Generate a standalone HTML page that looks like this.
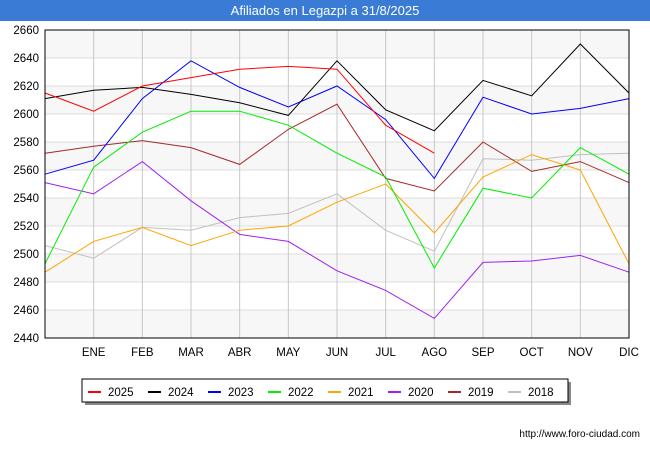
<!DOCTYPE html>
<html><head><meta charset="utf-8"><style>
body{margin:0;width:650px;height:450px;background:#fff;font-family:"Liberation Sans",sans-serif;overflow:hidden}
</style></head><body>
<svg width="650" height="450" xmlns="http://www.w3.org/2000/svg">
<rect x="0" y="0" width="650" height="21" fill="#3a7bd5"/>
<text x="325" y="15" text-anchor="middle" fill="#fff" font-size="13">Afiliados en Legazpi a 31/8/2025</text>
<g id="grid"></g>
<g id="series"></g>
<rect x="45" y="30" width="584" height="308" fill="none" stroke="#000" stroke-width="1"/>
<g id="legend"></g>
<text x="640" y="437" text-anchor="end" font-size="10" fill="#000">http://www.foro-ciudad.com</text>
</svg>
<script>
const months=["","ENE","FEB","MAR","ABR","MAY","JUN","JUL","AGO","SEP","OCT","NOV","DIC"];
const yTicks=[2440,2460,2480,2500,2520,2540,2560,2580,2600,2620,2640,2660];
const seriesNames=["2025","2024","2023","2022","2021","2020","2019","2018"];
const seriesColors=["#ff0000","#000000","#0000ff","#00ee00","#ffa500","#a020f0","#a52a2a","#c0c0c0"];
const s2025=[2615,2602,2620,2626,2632,2634,2632,2592,2572];
const s2024=[2611,2617,2619,2614,2608,2599,2638,2603,2588,2624,2613,2650,2615];
const s2023=[2557,2567,2611,2638,2619,2605,2620,2596,2554,2612,2600,2604,2611];
const s2022=[2493,2562,2587,2602,2602,2592,2572,2555,2490,2547,2540,2576,2557];
const s2021=[2487,2509,2519,2506,2517,2520,2537,2550,2515,2555,2571,2560,2493];
const s2020=[2551,2543,2566,2538,2514,2509,2488,2474,2454,2494,2495,2499,2487];
const s2019=[2572,2577,2581,2576,2564,2589,2607,2554,2545,2580,2559,2566,2551];
const s2018=[2506,2497,2519,2517,2526,2529,2543,2517,2502,2568,2567,2571,2572];
const allSeries=[s2025,s2024,s2023,s2022,s2021,s2020,s2019,s2018];
const NS="http://www.w3.org/2000/svg";
const X0=45,X1=629,Y0=338,Y1=30,YMIN=2440,YMAX=2660;
const xs=i=>X0+i*(X1-X0)/12;
const ys=v=>Y0-(v-YMIN)/(YMAX-YMIN)*(Y0-Y1);
function mk(t,a,p){const e=document.createElementNS(NS,t);for(const k in a)e.setAttribute(k,a[k]);p.appendChild(e);return e;}
const grid=document.getElementById('grid');
for(let i=0;i<yTicks.length-1;i++){
  if(i%2===0){const r=mk('rect',{x:X0,y:ys(yTicks[i+1]),width:X1-X0,height:ys(yTicks[i])-ys(yTicks[i+1]),fill:'#f7f7f7'},grid);
  
  }
}
yTicks.forEach(v=>{
  const l=mk('line',{x1:X0,x2:X1,y1:ys(v),y2:ys(v),stroke:'#dddddd'},grid);
  
  
  const t=mk('text',{x:X0-6,y:ys(v)+4,'text-anchor':'end','font-size':'11.5',fill:'#000'},grid);
  t.textContent=v;
  
  
});
months.forEach((m,i)=>{
  if(i===0)return;
  const l=mk('line',{x1:xs(i),x2:xs(i),y1:Y1,y2:Y0,stroke:'#c8c8c8'},grid);
  
  
  const t=mk('text',{x:xs(i),y:356,'text-anchor':'middle','font-size':'11.5',fill:'#000'},grid);
  t.textContent=m;
  
  
});
const sg=document.getElementById('series');
for(let k=allSeries.length-1;k>=0;k--){
  const pts=allSeries[k].map((v,i)=>xs(i)+','+ys(v)).join(' ');
  const p=mk('polyline',{points:pts,fill:'none',stroke:seriesColors[k],'stroke-width':'1'},sg);
  
  
}
const lg=document.getElementById('legend');
const sh=mk('rect',{x:85,y:382,width:486,height:23,fill:'#888'},lg);


const bx=mk('rect',{x:82,y:379,width:486,height:23,fill:'#fff',stroke:'#000'},lg);


seriesNames.forEach((n,k)=>{
  const x=88+k*60;
  const g=mk('g',{},lg);
  
  
  mk('line',{x1:x,x2:x+13,y1:392,y2:392,stroke:seriesColors[k],'stroke-width':'2'},g);
  const t=mk('text',{x:x+20,y:396,'font-size':'11.5',fill:'#000'},g);
  t.textContent=n;
});
</script>
</body></html>
